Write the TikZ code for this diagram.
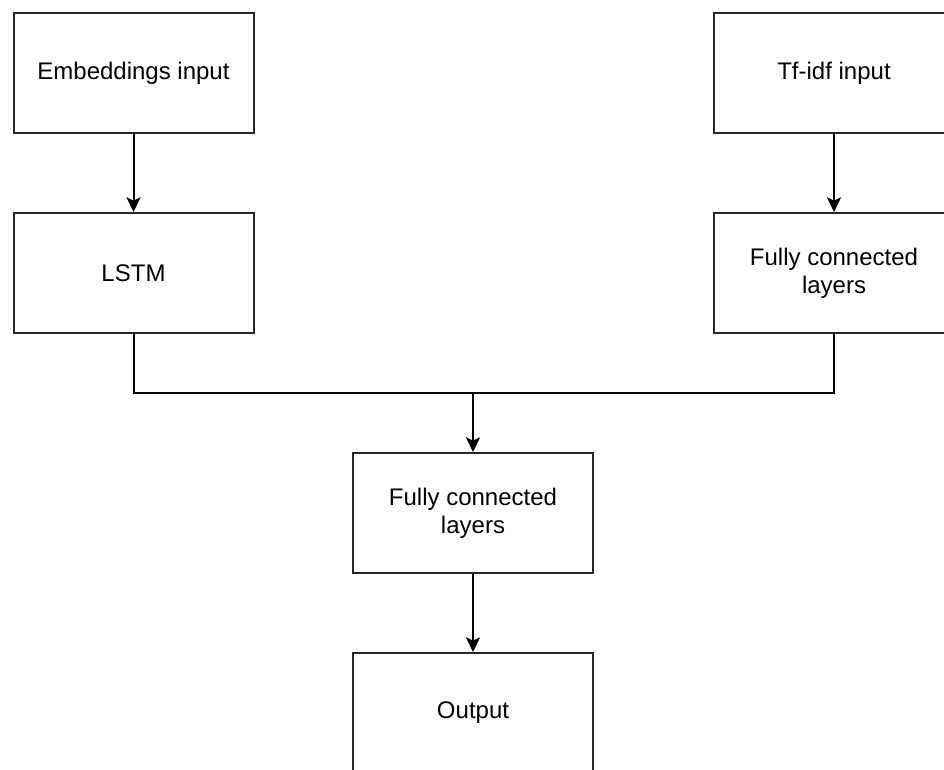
\documentclass[tikz,border=0pt]{standalone}
\usepackage{fontspec}
\setmainfont{Liberation Sans}
\usetikzlibrary{arrows.meta}
\begin{document}
\begin{tikzpicture}[x=0.75pt,y=-0.75pt,
  box/.style={draw=black!85, line width=1.5pt, minimum width=180pt, minimum height=90pt,
    inner sep=0pt, align=center, font=\fontsize{18pt}{21pt}\selectfont, text=black, fill=white},
  conn/.style={draw=black, line width=1.5pt},
  arr/.style={conn, -{Stealth[length=11pt,width=10.5pt,inset=2.5pt]}}]
\useasboundingbox (0,0) rectangle (944,769);
\clip (0,0) rectangle (944,769);
\node[box] (emb) at (133.5,73) {\raisebox{-1.5pt}{Embeddings input}};
\node[box] (tfidf) at (834,73) {\raisebox{-1.5pt}{Tf-idf input}};
\node[box] (lstm) at (133.5,273) {\raisebox{-1.5pt}{LSTM}};
\node[box] (fc1) at (834,273) {Fully connected\\layers};
\node[box] (fc2) at (473,513) {Fully connected\\layers};
\node[box] (out) at (473,713) {\raisebox{-1.5pt}{Output}};
\coordinate (j) at (473,393);
\draw[arr] (emb) -- (lstm);
\draw[arr] (tfidf) -- (fc1);
\draw[conn] (lstm.south) |- (j);
\draw[conn] (fc1.south) |- (j);
\draw[arr] (j) -- (fc2.north);
\draw[arr] (fc2) -- (out);
\end{tikzpicture}
\end{document}
